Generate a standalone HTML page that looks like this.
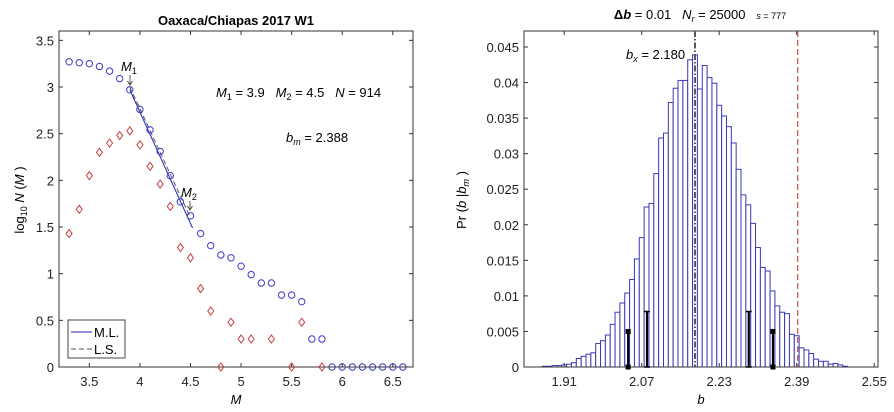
<!DOCTYPE html>
<html><head><meta charset="utf-8"><style>
html,body{margin:0;padding:0;background:#fff;width:894px;height:412px;overflow:hidden}
svg{display:block;font-family:"Liberation Sans",Arial,sans-serif}
</style></head><body>
<svg id="chart" width="894" height="412" viewBox="0 0 894 412" xmlns="http://www.w3.org/2000/svg">
<g id="left"></g>
<g id="right"></g>
</svg>
<script>
// ---- Left chart data ----
const magnitudes = [3.3,3.4,3.5,3.6,3.7,3.8,3.9,4.0,4.1,4.2,4.3,4.4,4.5,4.6,4.7,4.8,4.9,5.0,5.1,5.2,5.3,5.4,5.5,5.6,5.7,5.8,5.9,6.0,6.1,6.2,6.3,6.4,6.5,6.6];
const cumulativeLog = [3.27,3.26,3.25,3.22,3.17,3.09,2.97,2.76,2.54,2.31,2.05,1.77,1.62,1.43,1.30,1.20,1.17,1.08,0.99,0.90,0.90,0.77,0.77,0.70,0.30,0.30,0,0,0,0,0,0,0,0];
const incrementalLog = [1.43,1.69,2.05,2.30,2.40,2.48,2.53,2.38,2.15,1.96,1.72,1.28,1.17,0.84,0.60,0,0.48,0.30,0.30,null,0.30,null,0,0.48,null,0,null,null,null,null,null,null,null,null];
const leftXTicks = [3.5,4,4.5,5,5.5,6,6.5];
const leftYTicks = [0,0.5,1,1.5,2,2.5,3,3.5];
const mlFit = [[3.9,2.97],[4.52,1.49]];
const lsFit = [[3.9,3.0],[4.5,1.60]];
// ---- Right chart data ----
const binCenters = [1.87,1.88,1.89,1.90,1.91,1.92,1.93,1.94,1.95,1.96,1.97,1.98,1.99,2.00,2.01,2.02,2.03,2.04,2.05,2.06,2.07,2.08,2.09,2.10,2.11,2.12,2.13,2.14,2.15,2.16,2.17,2.18,2.19,2.20,2.21,2.22,2.23,2.24,2.25,2.26,2.27,2.28,2.29,2.30,2.31,2.32,2.33,2.34,2.35,2.36,2.37,2.38,2.39,2.40,2.41,2.42,2.43,2.44,2.45,2.46,2.47,2.48,2.49];
const binProb = [0.0001,0.0001,0.0002,0.0002,0.0003,0.0004,0.0006,0.0012,0.0015,0.0018,0.0020,0.0033,0.0037,0.0045,0.0060,0.0077,0.0090,0.0104,0.0123,0.0152,0.0182,0.0225,0.0230,0.0272,0.0322,0.0329,0.0372,0.0392,0.0403,0.0403,0.0432,0.0439,0.0391,0.0424,0.0407,0.0399,0.0368,0.0353,0.0338,0.0315,0.0278,0.0242,0.0228,0.0202,0.0168,0.0140,0.0135,0.0107,0.0086,0.0077,0.0075,0.0046,0.0044,0.0027,0.0024,0.0019,0.0011,0.0008,0.0008,0.0004,0.0005,0.0003,0.0001];
const rightXTicks = [1.91,2.07,2.23,2.39,2.55];
const rightYTicks = [0,0.005,0.01,0.015,0.02,0.025,0.03,0.035,0.04,0.045];
const errB = [2.042,2.081,2.291,2.341];
const errH = [0.005,0.0078,0.0078,0.005];
const bx = 2.18, bm = 2.392;

const NS="http://www.w3.org/2000/svg";
function mk(parent,tag,attrs,text){const e=document.createElementNS(NS,tag);for(const k in attrs)e.setAttribute(k,attrs[k]);if(text!==undefined)e.textContent=text;parent.appendChild(e);return e;}

// ---- Left axes ----
const L=document.getElementById('left');
const lx0=59,lx1=413,ly0=31,ly1=367;
const lxs=v=>lx0+(v-3.2)/(6.7-3.2)*(lx1-lx0);
const lys=v=>ly1-(v/3.6)*(ly1-ly0);
let t=mk(L,'text',{x:236,y:25,'text-anchor':'middle','font-size':13,'font-weight':'bold'},'Oaxaca/Chiapas 2017 W1');

let b=mk(L,'rect',{x:lx0,y:ly0,width:lx1-lx0,height:ly1-ly0,fill:'none',stroke:'#333','stroke-width':1});

leftXTicks.forEach(v=>{const x=lxs(v);
 mk(L,'line',{x1:x,x2:x,y1:ly1,y2:ly1-4,stroke:'#333'});mk(L,'line',{x1:x,x2:x,y1:ly0,y2:ly0+4,stroke:'#333'});
 const e=mk(L,'text',{x:x,y:386,'text-anchor':'middle','font-size':13,fill:'#222'},String(v));
 });
leftYTicks.forEach(v=>{const y=lys(v);
 mk(L,'line',{x1:lx0,x2:lx0+4,y1:y,y2:y,stroke:'#333'});mk(L,'line',{x1:lx1,x2:lx1-4,y1:y,y2:y,stroke:'#333'});
 const e=mk(L,'text',{x:54,y:y+5,'text-anchor':'end','font-size':13,fill:'#222'},String(v));
 });
t=mk(L,'text',{x:236,y:404,'text-anchor':'middle','font-size':13,'font-style':'italic'},'M');

t=mk(L,'text',{transform:'translate(24,200) rotate(-90)','text-anchor':'middle','font-size':13});
t.innerHTML='log<tspan font-size="9" dy="3">10</tspan><tspan dy="-3">&#160;</tspan><tspan font-style="italic">N</tspan>&#160;(<tspan font-style="italic">M</tspan>&#160;)';

// fits
let ml=mk(L,'line',{x1:lxs(mlFit[0][0]),y1:lys(mlFit[0][1]),x2:lxs(mlFit[1][0]),y2:lys(mlFit[1][1]),stroke:'#2222bb','stroke-width':1});

let ls=mk(L,'line',{x1:lxs(lsFit[0][0]),y1:lys(lsFit[0][1]),x2:lxs(lsFit[1][0]),y2:lys(lsFit[1][1]),stroke:'#555','stroke-width':1,'stroke-dasharray':'5,3'});

magnitudes.forEach((m,i)=>{
 const c=mk(L,'circle',{cx:lxs(m),cy:lys(cumulativeLog[i]),r:3.2,fill:'none',stroke:'#3a3ac0','stroke-width':1});
 
 const v=incrementalLog[i];
 if(v!==null){const x=lxs(m),y=lys(v);
  const d=mk(L,'polygon',{points:`${x},${y-4} ${x+3},${y} ${x},${y+4} ${x-3},${y}`,fill:'none',stroke:'#c84040','stroke-width':1});
  }
});
// annotations
t=mk(L,'text',{x:121,y:71,'font-size':13,'font-style':'italic'});t.innerHTML='M<tspan font-size="9" dy="3" font-style="normal">1</tspan>';

mk(L,'path',{d:`M130,75 L130,84 M127.5,81 L130,85 L132.5,81`,stroke:'#333',fill:'none','stroke-width':0.8});
t=mk(L,'text',{x:181,y:197,'font-size':13,'font-style':'italic'});t.innerHTML='M<tspan font-size="9" dy="3" font-style="normal">2</tspan>';

mk(L,'path',{d:`M190,201 L190,209 M187.5,206 L190,210 L192.5,206`,stroke:'#333',fill:'none','stroke-width':0.8});
t=mk(L,'text',{x:216,y:97,'font-size':13});
t.innerHTML='<tspan font-style="italic">M</tspan><tspan font-size="9" dy="3">1</tspan><tspan dy="-3">&#160;=&#160;3.9&#160;&#160;&#160;</tspan><tspan font-style="italic">M</tspan><tspan font-size="9" dy="3">2</tspan><tspan dy="-3">&#160;=&#160;4.5&#160;&#160;&#160;</tspan><tspan font-style="italic">N</tspan>&#160;=&#160;914';

t=mk(L,'text',{x:286,y:142,'font-size':13});
t.innerHTML='<tspan font-style="italic">b</tspan><tspan font-size="9" dy="3" font-style="italic">m</tspan><tspan dy="-3">&#160;=&#160;2.388</tspan>';

// legend
const lg=mk(L,'g',{});
mk(lg,'rect',{x:68,y:320,width:57,height:38,fill:'#fff',stroke:'#444','stroke-width':1});
mk(lg,'line',{x1:71,x2:92,y1:332,y2:332,stroke:'#2222bb'});
t=mk(lg,'text',{x:94,y:337,'font-size':13},'M.L.');
mk(lg,'line',{x1:71,x2:92,y1:349,y2:349,stroke:'#555','stroke-dasharray':'5,3'});
t=mk(lg,'text',{x:94,y:354,'font-size':13},'L.S.');

// ---- Right axes ----
const R=document.getElementById('right');
const rx0=524,rx1=878,ry0=31,ry1=367;
const rxs=v=>rx0+(v-1.827)*484.4;
const rys=v=>ry1-v/0.045*320;
t=mk(R,'text',{x:700,y:19,'text-anchor':'middle','font-size':13});
t.innerHTML='<tspan font-weight="bold">Δ</tspan><tspan font-weight="bold" font-style="italic">b</tspan>&#160;=&#160;0.01&#160;&#160;&#160;<tspan font-style="italic">N</tspan><tspan font-size="9" dy="3" font-style="italic">r</tspan><tspan dy="-3">&#160;=&#160;25000&#160;&#160;&#160;</tspan><tspan font-size="9" font-style="italic">s</tspan><tspan font-size="9">&#160;=&#160;777</tspan>';

binCenters.forEach((c,i)=>{const x=rxs(c-0.005),w=rxs(c+0.005)-x,y=rys(binProb[i]);
 const r=mk(R,'rect',{x:x,y:y,width:w,height:ry1-y,fill:'#fff',stroke:'#3a3ab8','stroke-width':1});
 });
b=mk(R,'rect',{x:rx0,y:ry0,width:rx1-rx0,height:ry1-ry0,fill:'none',stroke:'#333','stroke-width':1});

rightXTicks.forEach(v=>{const x=rxs(v);
 mk(R,'line',{x1:x,x2:x,y1:ry1,y2:ry1-4,stroke:'#333'});mk(R,'line',{x1:x,x2:x,y1:ry0,y2:ry0+4,stroke:'#333'});
 const e=mk(R,'text',{x:x,y:386,'text-anchor':'middle','font-size':13,fill:'#222'},v.toFixed(2));
 });
rightYTicks.forEach(v=>{const y=rys(v);
 mk(R,'line',{x1:rx0,x2:rx0+4,y1:y,y2:y,stroke:'#333'});mk(R,'line',{x1:rx1,x2:rx1-4,y1:y,y2:y,stroke:'#333'});
 const e=mk(R,'text',{x:519,y:y+5,'text-anchor':'end','font-size':13,fill:'#222'},String(v));
 });
t=mk(R,'text',{x:701,y:404,'text-anchor':'middle','font-size':13,'font-style':'italic'},'b');

t=mk(R,'text',{transform:'translate(466,200) rotate(-90)','text-anchor':'middle','font-size':13});
t.innerHTML='Pr&#160;(<tspan font-style="italic">b</tspan>&#160;|<tspan font-style="italic">b</tspan><tspan font-size="9" dy="3" font-style="italic">m</tspan><tspan dy="-3">&#160;)</tspan>';

// vertical lines
let vl=mk(R,'line',{x1:rxs(bx),x2:rxs(bx),y1:ry0,y2:ry1,stroke:'#fff','stroke-width':2});
vl=mk(R,'line',{x1:rxs(bx),x2:rxs(bx),y1:ry0,y2:ry1,stroke:'#000','stroke-width':1.3,'stroke-dasharray':'6,2,1.5,2'});

vl=mk(R,'line',{x1:rxs(bm),x2:rxs(bm),y1:ry0,y2:ry1,stroke:'#c85050','stroke-width':1.2,'stroke-dasharray':'6,3'});

t=mk(R,'text',{x:626,y:59,'font-size':13});
t.innerHTML='<tspan font-style="italic">b</tspan><tspan font-size="9" dy="3" font-style="italic">x</tspan><tspan dy="-3">&#160;=&#160;2.180</tspan>';

errB.forEach((v,i)=>{const x=rxs(v),y=rys(errH[i]);
 const g=mk(R,'g',{});
 mk(g,'line',{x1:x,x2:x,y1:ry1,y2:y,stroke:'#000','stroke-width':2.2});
 if(errH[i]<0.006){mk(g,'rect',{x:x-2.5,y:y-2.5,width:5,height:5,fill:'#000'});mk(g,'rect',{x:x-2.5,y:ry1-2.5,width:5,height:5,fill:'#000'});}
 else{mk(g,'path',{d:`M${x-3},${y} h6 M${x-3},${ry1} h6`,stroke:'#000','stroke-width':1.5});}
});
</script>
</body></html>
